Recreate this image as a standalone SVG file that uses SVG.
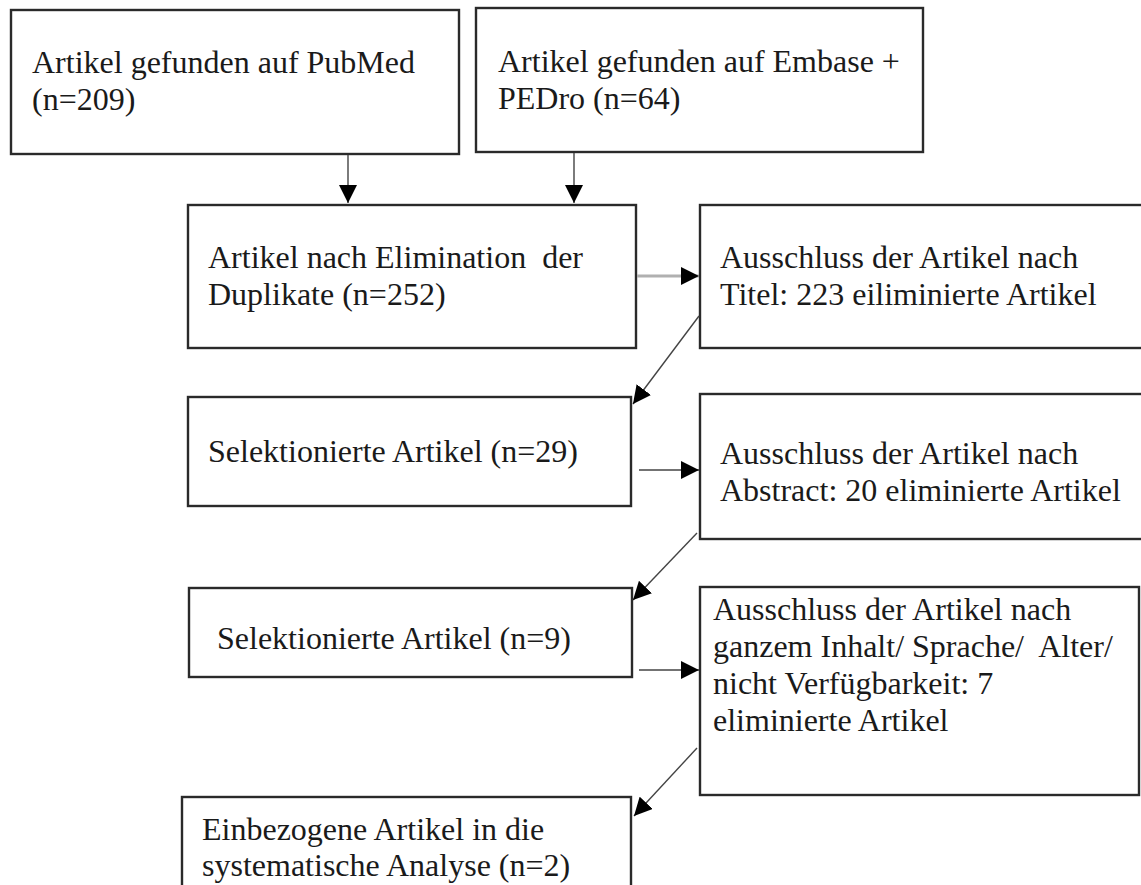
<svg xmlns="http://www.w3.org/2000/svg" width="1141" height="885" viewBox="0 0 1141 885">
<defs>
<style>
.box{fill:#fff;stroke:#2a2a2a;stroke-width:2.4}
.t{font-family:"Liberation Serif","Times New Roman",serif;font-size:32px;fill:#1a1a1a;white-space:pre}
.c{stroke:#444;stroke-width:1.4;fill:none}
.cg{stroke:#b0b0b0;stroke-width:3;fill:none}
</style>
<marker id="ah" viewBox="0 0 18 18" refX="18" refY="9" markerWidth="18" markerHeight="18" markerUnits="userSpaceOnUse" orient="auto">
<path d="M0,0 L18,9 L0,18 z" fill="#000"/>
</marker>
</defs>
<rect width="1141" height="885" fill="#fff"/>
<g id="n1">
<rect class="box" x="11" y="10" width="448" height="144"/>
<text class="t" x="32" y="73">Artikel gefunden auf PubMed</text>
<text class="t" x="32" y="110">(n=209)</text>
</g>
<g id="n2">
<rect class="box" x="476" y="8" width="447" height="144"/>
<text class="t" x="498" y="72">Artikel gefunden auf Embase +</text>
<text class="t" x="498" y="109">PEDro (n=64)</text>
</g>
<g id="n3">
<rect class="box" x="188" y="205" width="448" height="143"/>
<text class="t" x="208" y="268" xml:space="preserve">Artikel nach Elimination  der</text>
<text class="t" x="208" y="305">Duplikate (n=252)</text>
</g>
<g id="n4">
<rect class="box" x="700" y="205" width="460" height="143"/>
<text class="t" x="720" y="268">Ausschluss der Artikel nach</text>
<text class="t" x="720" y="305">Titel: 223 eiliminierte Artikel</text>
</g>
<g id="n5">
<rect class="box" x="188" y="397" width="443" height="109"/>
<text class="t" x="208" y="462">Selektionierte Artikel (n=29)</text>
</g>
<g id="n6">
<rect class="box" x="700" y="394" width="460" height="145"/>
<text class="t" x="720" y="464">Ausschluss der Artikel nach</text>
<text class="t" x="720" y="501">Abstract: 20 eliminierte Artikel</text>
</g>
<g id="n7">
<rect class="box" x="189" y="588" width="443" height="89"/>
<text class="t" x="217" y="649">Selektionierte Artikel (n=9)</text>
</g>
<g id="n8">
<rect class="box" x="700" y="587" width="439" height="208"/>
<text class="t" x="713" y="620">Ausschluss der Artikel nach</text>
<text class="t" x="713" y="657" xml:space="preserve">ganzem Inhalt/ Sprache/  Alter/</text>
<text class="t" x="713" y="694">nicht Verfügbarkeit: 7</text>
<text class="t" x="713" y="731">eliminierte Artikel</text>
</g>
<g id="n9">
<rect class="box" x="182" y="797" width="449" height="110"/>
<text class="t" x="202" y="840">Einbezogene Artikel in die</text>
<text class="t" x="202" y="876">systematische Analyse (n=2)</text>
</g>
<g id="connectors">
<line class="c" x1="348" y1="155" x2="348" y2="203" marker-end="url(#ah)"/>
<line class="c" x1="574" y1="153" x2="574" y2="203" marker-end="url(#ah)"/>
<line class="cg" x1="637" y1="276" x2="699" y2="276" marker-end="url(#ah)"/>
<line class="c" x1="699" y1="316" x2="633" y2="404" marker-end="url(#ah)"/>
<line class="c" x1="639" y1="470" x2="699" y2="470" marker-end="url(#ah)"/>
<line class="c" x1="697" y1="533" x2="633" y2="600" marker-end="url(#ah)"/>
<line class="c" x1="639" y1="670" x2="699" y2="670" marker-end="url(#ah)"/>
<line class="c" x1="697" y1="748" x2="634" y2="816" marker-end="url(#ah)"/>
</g>
</svg>
